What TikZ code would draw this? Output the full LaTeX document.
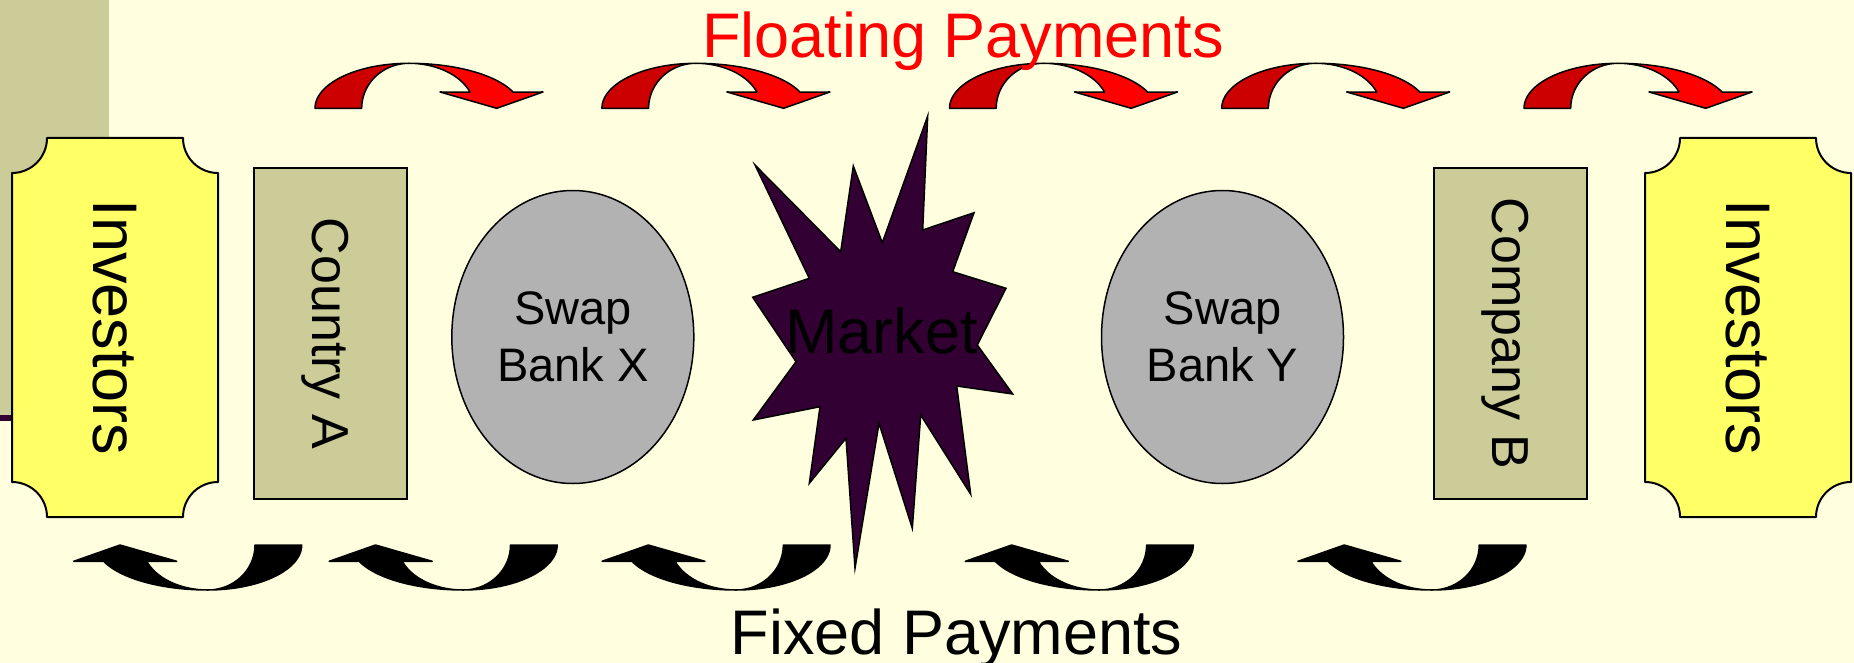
\documentclass[tikz,border=0pt]{standalone}
\usepackage{fontspec}
\setmainfont{Liberation Sans}
\usetikzlibrary{shapes.geometric}

\definecolor{paper}{RGB}{255,255,224}
\definecolor{sage}{RGB}{204,204,153}
\definecolor{plum}{RGB}{51,0,51}
\definecolor{lemon}{RGB}{255,255,102}
\definecolor{silver}{RGB}{178,178,178}
\definecolor{flame}{RGB}{255,0,0}
\definecolor{ember}{RGB}{204,0,0}

\tikzset{
  outline/.style={draw=black, line width=1.5pt, line join=round},
  % ticket-shaped box with concave corners, centred on the pic origin
  pics/plaque/.style={code={
    \path[outline, line width=2pt, fill=lemon]
      (-68,-189.5) -- (68,-189.5) arc[start angle=180, end angle=270, radius=35pt]
      -- (103,154.5) arc[start angle=90, end angle=180, radius=35pt]
      -- (-68,189.5) arc[start angle=0, end angle=90, radius=35pt]
      -- (-103,-154.5) arc[start angle=270, end angle=360, radius=35pt]
      -- cycle;
  }},
  % curved ribbon arrow; origin at the outer foot of the band
  pics/paymentarrow/.style 2 args={code={
    \path[outline, fill=#1]
      plot[domain=180:270, samples=30] ({94+94*cos(\x)}, {45*sin(\x)})
      -- plot[domain=270:180, samples=30] ({94+47.3*cos(\x)}, {45*sin(\x)})
      -- cycle;
    \path[outline, fill=#2]
      plot[domain=270:338.8, samples=30] ({94+111.6*cos(\x)}, {45*sin(\x)})
      -- (228,-16.3) -- (181.7,0) -- (125,-16.3)
      -- plot[domain=338.8:270, samples=30] ({94+65.4*cos(\x)}, {45*sin(\x)})
      -- cycle;
  }},
  sidetext/.style={rotate=-90, inner sep=0pt, text depth=0pt},
  partybox/.style={sidetext, rectangle, draw=black, line width=2pt, fill=sage,
    minimum width=331pt, minimum height=153pt, font=\fontsize{52}{60}\selectfont},
  investortext/.style={sidetext, font=\fontsize{63}{72}\selectfont},
  bank/.style={ellipse, draw=black, line width=1.5pt, fill=silver, inner sep=0pt,
    minimum width=242pt, minimum height=293pt, align=center,
    font=\fontsize{47}{56.7}\selectfont},
  headline/.style={anchor=base, inner sep=0pt, font=\fontsize{63}{72}\selectfont},
}

\begin{document}
\begin{tikzpicture}[x=1pt, y=-1pt]
\useasboundingbox (0,0) rectangle (1854,663);
\fill[paper] (0,0) rectangle (1854,663);
\fill[sage] (0,0) rectangle (109,416);
\fill[plum] (0,415) rectangle (20,421);

% investors at both ends
\pic at (115,327.5) {plaque};
\node[investortext] (invL) at (115,327.5) {Investors};
\pic at (1748,327.5) {plaque};
\node[investortext] (invR) at (1748,327.5) {Investors};

% counterparties
\node[partybox] (countryA) at (330.5,333.5) {Country A};
\node[partybox] (companyB) at (1510.5,333.5) {Company B};

% swap banks
\node[bank] (bankX) at (572.8,337) {Swap\\Bank X};
\node[bank] (bankY) at (1222.5,337) {Swap\\Bank Y};

% market burst
\path[outline, line join=miter, fill=plum]
  (755,165) -- (840.7,251.7) -- (853.3,166) -- (882.3,242.7) -- (927.7,116)
  -- (922.7,230) -- (974,212.7) -- (952.7,271.7) -- (1006,288.3) -- (977.3,345)
  -- (1012.7,394) -- (956.7,386) -- (970.7,494.3) -- (920.7,415) -- (912.3,528.3)
  -- (879,423.3) -- (855,568.3) -- (846,438.3) -- (809.3,483.3) -- (820,406.7)
  -- (753.3,420) -- (796,361.7) -- (752.7,297.3) -- (809.3,278.3) -- cycle;
\node[headline] (market) at (881.7,353.3) {Market};

% floating payments, left to right
\foreach \px in {315,601.9,949.5,1221.7,1524}
  \pic at (\px,108.3) {paymentarrow={ember}{flame}};

% fixed payments, right to left
\foreach \px in {301.7,557.2,830,1193.3,1525.9}
  \pic[rotate=180] at (\px,545) {paymentarrow={black}{black}};

\node[headline, text=flame] (floating) at (963,58) {Floating Payments};
\node[headline] (fixed) at (956.5,654) {Fixed Payments};
\end{tikzpicture}
\end{document}
